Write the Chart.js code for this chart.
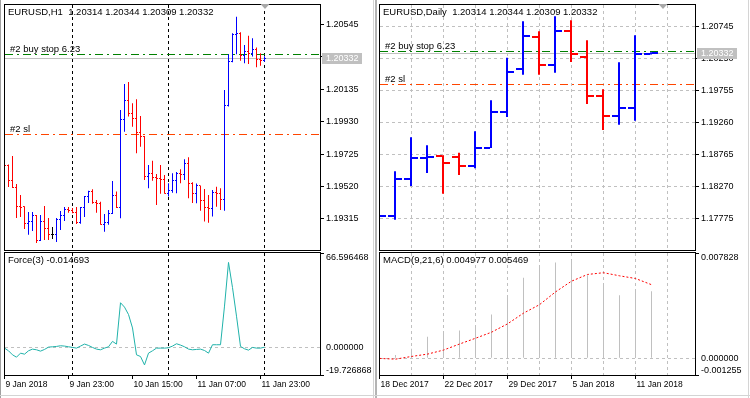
<!DOCTYPE html>
<html>
<head>
<meta charset="utf-8">
<title>EURUSD H1 / Daily</title>
<script src="https://cdn.jsdelivr.net/npm/chart.js@4.4.1/dist/chart.umd.min.js"></script>
<style>
  html, body { margin: 0; padding: 0; background: #fff; }
  body { position: relative; width: 750px; height: 398px; overflow: hidden; }
  .win { position: absolute; top: 0; width: 375px; height: 398px; }
  .win canvas { position: absolute; left: 0; }
  .pane-main { top: 0; }
  .pane-sub { top: 252px; }
  .edge { position: absolute; }
</style>
</head>
<body>
<div class="win" style="left:0">
  <canvas id="h1-price" class="pane-main" width="375" height="252"></canvas>
  <canvas id="h1-force" class="pane-sub" width="375" height="146"></canvas>
</div>
<div class="win" style="left:375px">
  <canvas id="d1-price" class="pane-main" width="375" height="252"></canvas>
  <canvas id="d1-macd" class="pane-sub" width="375" height="146"></canvas>
</div>
<div class="edge" style="left:0;top:0;width:1px;height:398px;background:#a0a0a0"></div>
<div class="edge" style="left:373px;top:0;width:1px;height:398px;background:#d4d4d4"></div>
<div class="edge" style="left:375px;top:0;width:2px;height:398px;background:#b4b4b4"></div>
<div class="edge" style="left:748px;top:0;width:1px;height:398px;background:#d4d4d4"></div>
<div class="edge" style="left:0;top:395px;width:750px;height:1px;background:#d4d4d4"></div>
<script>
// ── Data: EURUSD H1, 9 Jan 2018 07:00 → 12 Jan 2018 00:00 ─────

const symbol = "EURUSD";

const h1Open = [
  1.19669, 1.19656, 1.19561, 1.19517, 1.19397, 1.19391, 1.19284, 1.19297, 1.19335, 1.19182, 1.19302,
  1.19252, 1.19220, 1.19220, 1.19309, 1.19340, 1.19372, 1.19366, 1.19356, 1.19291, 1.19385, 1.19455,
  1.19486, 1.19418, 1.19411, 1.19282, 1.19292, 1.19352, 1.19466, 1.19390, 1.19945, 1.20061, 1.19983,
  1.19951, 1.19863, 1.19835, 1.19582, 1.19604, 1.19576, 1.19572, 1.19566, 1.19477, 1.19494, 1.19561,
  1.19604, 1.19596, 1.19667, 1.19541, 1.19474, 1.19524, 1.19431, 1.19390, 1.19384, 1.19481, 1.19474,
  1.19441, 1.20035, 1.20309, 1.20482, 1.20489, 1.20345, 1.20372, 1.20362, 1.20383, 1.20320, 1.20314,
];
const h1High = [
  1.19688, 1.19660, 1.19713, 1.19536, 1.19467, 1.19395, 1.19359, 1.19359, 1.19340, 1.19340, 1.19397,
  1.19321, 1.19265, 1.19321, 1.19366, 1.19391, 1.19391, 1.19385, 1.19391, 1.19391, 1.19461, 1.19494,
  1.19503, 1.19435, 1.19424, 1.19347, 1.19372, 1.19555, 1.19488, 1.20004, 1.20168, 1.20181, 1.20046,
  1.20071, 1.19966, 1.19840, 1.19656, 1.19683, 1.19599, 1.19656, 1.19593, 1.19541, 1.19604, 1.19612,
  1.19629, 1.19692, 1.19705, 1.19547, 1.19539, 1.19527, 1.19505, 1.19467, 1.19498, 1.19519, 1.19509,
  1.20130, 1.20356, 1.20489, 1.20593, 1.20495, 1.20415, 1.20473, 1.20457, 1.20398, 1.20362, 1.20344,
];
const h1Low = [
  1.19612, 1.19517, 1.19511, 1.19321, 1.19328, 1.19252, 1.19215, 1.19239, 1.19163, 1.19176, 1.19182,
  1.19182, 1.19189, 1.19170, 1.19246, 1.19302, 1.19354, 1.19351, 1.19284, 1.19285, 1.19328, 1.19416,
  1.19411, 1.19354, 1.19278, 1.19235, 1.19278, 1.19347, 1.19384, 1.19319, 1.19867, 1.19962, 1.19898,
  1.19730, 1.19772, 1.19561, 1.19509, 1.19557, 1.19403, 1.19474, 1.19474, 1.19457, 1.19481, 1.19477,
  1.19541, 1.19561, 1.19446, 1.19416, 1.19414, 1.19367, 1.19299, 1.19292, 1.19330, 1.19393, 1.19372,
  1.19367, 1.20025, 1.20305, 1.20356, 1.20315, 1.20299, 1.20295, 1.20341, 1.20274, 1.20284, 1.20309,
];
const h1Close = [
  1.19656, 1.19561, 1.19517, 1.19397, 1.19389, 1.19284, 1.19297, 1.19335, 1.19182, 1.19302, 1.19252,
  1.19220, 1.19220, 1.19309, 1.19340, 1.19372, 1.19366, 1.19356, 1.19291, 1.19385, 1.19455, 1.19486,
  1.19418, 1.19411, 1.19282, 1.19292, 1.19352, 1.19466, 1.19390, 1.19945, 1.20061, 1.19983, 1.19951,
  1.19863, 1.19835, 1.19582, 1.19604, 1.19576, 1.19572, 1.19566, 1.19477, 1.19494, 1.19561, 1.19604,
  1.19596, 1.19667, 1.19541, 1.19474, 1.19524, 1.19431, 1.19390, 1.19384, 1.19481, 1.19474, 1.19441,
  1.20035, 1.20309, 1.20482, 1.20489, 1.20345, 1.20372, 1.20362, 1.20383, 1.20320, 1.20314, 1.20332,
];
const h1Force = [
  -0.70, -2.60, -5.45, -7.12, -4.27, -4.98, -2.60, -1.41, -1.89, -2.84, -1.65,
  0.00, 0.25, 0.49, 0.96, 0.73, 0.25, -0.22, -0.70, 0.73, 2.15, 1.20,
  -0.22, -1.41, -1.89, -0.70, 0.25, 4.06, 2.15, 31.40, 28.31, 23.08, 13.57,
  -5.45, -6.65, -12.59, -4.27, -2.60, -0.70, -0.70, -0.70, -0.46, 0.73, 2.38,
  1.44, 0.25, -1.41, -1.89, -1.65, -1.41, -2.37, -4.27, 1.68, 1.68, 1.68,
  29.02, 59.94, 42.10, 21.89, 0.49, -1.18, -2.13, -0.22, -0.70, -0.70, -0.014693,
];
const h1TickIdx = [0, 16, 32, 48, 64];
const h1TickLabels = ["9 Jan 2018", "9 Jan 23:00", "10 Jan 15:00", "11 Jan 07:00", "11 Jan 23:00"];
const h1Separators = [17, 41, 65];
const h1PriceTicks = [1.20545, 1.2034, 1.20135, 1.1993, 1.19725, 1.1952, 1.19315];
const forceTicks = [-19.726868, 0, 66.596468];

// ── Data: EURUSD Daily, 18 Dec 2017 → 12 Jan 2018 ─────────────

const d1Dates = [
  "18 Dec 2017", "19 Dec 2017", "20 Dec 2017", "21 Dec 2017", "22 Dec 2017", "26 Dec 2017",
  "27 Dec 2017", "28 Dec 2017", "29 Dec 2017", "2 Jan 2018", "3 Jan 2018", "4 Jan 2018",
  "5 Jan 2018", "8 Jan 2018", "9 Jan 2018", "10 Jan 2018", "11 Jan 2018", "12 Jan 2018",
];
const d1Open = [1.17480, 1.17815, 1.18381, 1.18716, 1.18742, 1.18721, 1.18587, 1.18870, 1.19420,
  1.20081, 1.20580, 1.20148, 1.20673, 1.20271, 1.19669, 1.19355, 1.19483, 1.20314];
const d1High = [1.18100, 1.18505, 1.19030, 1.18906, 1.18752, 1.18793, 1.19123, 1.19602, 1.20261,
  1.20822, 1.20668, 1.20900, 1.20838, 1.20529, 1.19772, 1.20189, 1.20606, 1.20344];
const d1Low = [1.17410, 1.17758, 1.18278, 1.18479, 1.18160, 1.18448, 1.18551, 1.18865, 1.19344,
  1.19998, 1.19998, 1.20029, 1.20194, 1.19545, 1.19143, 1.19226, 1.19288, 1.20309];
const d1Close = [1.17815, 1.18381, 1.18716, 1.18726, 1.18633, 1.18587, 1.18870, 1.19427, 1.20034,
  1.20590, 1.20153, 1.20673, 1.20312, 1.19669, 1.19355, 1.19483, 1.20318, 1.20332];
const d1Macd = [-0.0001, 0.000225, 0.0007, 0.0016, 0.00188, 0.00205, 0.00243, 0.00325, 0.00455,
  0.00598, 0.00673, 0.00713, 0.00726, 0.00618, 0.00548, 0.00468, 0.005, 0.004977];
const d1Signal = [-0.00002, -0.000075, 0.000125, 0.0003, 0.0006, 0.00105, 0.00148, 0.00193, 0.00255,
  0.00335, 0.00398, 0.00493, 0.00573, 0.00623, 0.00636, 0.00613, 0.00593, 0.005469];
const d1TickIdx = [0, 4, 8, 12, 16];
const d1GridIdx = [0, 2, 4, 6, 8, 10, 12, 14, 16, 18];
const d1PriceTicks = [1.20745, 1.2025, 1.19755, 1.1926, 1.18765, 1.1827, 1.17775];
const macdTicks = [-0.001255, 0, 0.007828];

// pending order #2, shown on both charts
const orderLevels = [1.20357, 1.19855];
const orderLabels = ["#2 buy stop 6.23", "#2 sl"];

// ── Look ──────────────────────────────────────────────────────

const UP = "#0000ff";
const DOWN = "#ff0000";
const DOJI = "#000000";
const GRID = "#c0c0c0";
const CLEAR = "rgba(0, 0, 0, 0)";
const LEVEL_COLORS = ["#008000", "#ff4500"];
const FAMILY = '"Liberation Sans", Arial, sans-serif';
const TEXT_FONT = "9.5px " + FAMILY;
const AXIS_FONT = "9px " + FAMILY;
const AXIS_W = 55;
const DASH = [3, 3];
const DASHDOT = [8, 4, 2, 4];

// visible windows (bar index / price)
const h1View = { min: 0.125, max: 78.875 };
const h1Range = { min: 1.191191, max: 1.206671 };
const d1View = { min: 0.0625, max: 19.75 };
const macdView = { min: 0.03125, max: 19.71875 };
const d1Range = { min: 1.1729, max: 1.21074 };

Chart.defaults.font.family = FAMILY;
Chart.defaults.font.size = 9;
Chart.defaults.color = "#000";

function barColor(o, c) {
  return c > o ? UP : c < o ? DOWN : DOJI;
}

function last(arr) {
  return arr[arr.length - 1];
}

// ── Axis helpers ──────────────────────────────────────────────

function setTicks(values) {
  return (axis) => {
    axis.ticks = values.map((v) => ({ value: v }));
  };
}

function fixedWidth(w) {
  return (axis) => {
    axis.width = w;
    axis.paddingTop = 0;
    axis.paddingBottom = 0;
  };
}

function fixedHeight(h) {
  return (axis) => {
    axis.height = h;
    axis.paddingLeft = 0;
    axis.paddingRight = 0;
  };
}

function priceAxis(range, ticks, withGrid) {
  return {
    position: "right",
    min: range.min,
    max: range.max,
    beginAtZero: false,
    afterBuildTicks: setTicks(ticks),
    afterFit: fixedWidth(AXIS_W),
    ticks: { padding: 2, autoSkip: false, callback: (v) => v.toFixed(5) },
    grid: { drawOnChartArea: withGrid, color: GRID, tickLength: 4, tickColor: "#000", borderDash: DASH },
    border: { display: false, dash: DASH },
  };
}

function levelAxis(ticks, digits) {
  const lo = ticks[0];
  const hi = last(ticks);
  const isZero = (c) => c.tick && c.tick.value === 0;
  return {
    position: "right",
    min: lo,
    max: hi,
    beginAtZero: false,
    afterBuildTicks: setTicks(ticks),
    afterFit: fixedWidth(AXIS_W),
    ticks: {
      padding: 2,
      autoSkip: false,
      font: { lineHeight: 0.9 },
      callback: (v) => {
        const s = v.toFixed(digits);
        return v === hi ? ["", s] : v === lo ? [s, ""] : s;
      },
    },
    grid: {
      color: (c) => (isZero(c) ? GRID : CLEAR),
      tickColor: (c) => (isZero(c) ? CLEAR : "#000"),
      tickLength: 4,
      borderDash: DASH,
    },
    border: { display: false, dash: DASH },
  };
}

function hiddenTimeAxis(view, gridAt, color) {
  return {
    type: "linear",
    min: view.min,
    max: view.max,
    offset: false,
    afterBuildTicks: setTicks(gridAt),
    afterFit: fixedHeight(0),
    ticks: { display: false },
    grid: { offset: false, color, drawTicks: false, borderDash: DASH },
    border: { display: false, dash: DASH },
  };
}

function labelledTimeAxis(view, tickAt, labelAt, labels, color) {
  return {
    type: "linear",
    min: view.min,
    max: view.max,
    offset: false,
    afterBuildTicks: setTicks(tickAt),
    afterFit: fixedHeight(23),
    ticks: {
      align: "start",
      labelOffset: 1,
      padding: 1,
      autoSkip: false,
      maxRotation: 0,
      minRotation: 0,
      font: { size: 8.5 },
      callback: (v) => {
        const k = labelAt.indexOf(v);
        return k < 0 ? "" : labels[k];
      },
    },
    grid: {
      offset: false,
      color,
      tickLength: 4,
      tickColor: (c) => (c.tick && labelAt.includes(c.tick.value) ? "#000" : CLEAR),
      borderDash: DASH,
    },
    border: { display: false, dash: DASH },
  };
}

function ohlcBars(open, high, low, close, thickness) {
  return {
    data: low.map((l, i) => ({ x: i, y: [l, high[i]] })),
    backgroundColor: open.map((o, i) => barColor(o, close[i])),
    barThickness: thickness,
    inflateAmount: 0,
    clip: 0,
  };
}

function baseOptions(padding, scales) {
  return {
    responsive: false,
    animation: false,
    events: [],
    layout: { padding },
    plugins: { legend: { display: false }, tooltip: { enabled: false } },
    scales,
  };
}

// ── Plugins ───────────────────────────────────────────────────

// open tick to the left, close tick to the right of each high-low bar
function ohlcTicks(open, close, len, width) {
  return {
    id: "ohlcTicks",
    afterDatasetsDraw(chart) {
      const { ctx, chartArea: a } = chart;
      const y = chart.scales.y;
      const bars = chart.getDatasetMeta(0).data;
      ctx.save();
      ctx.beginPath();
      ctx.rect(a.left, a.top, a.right - a.left, a.bottom - a.top);
      ctx.clip();
      bars.forEach((bar, i) => {
        const half = bar.width / 2;
        ctx.fillStyle = barColor(open[i], close[i]);
        ctx.fillRect(bar.x - half - len, Math.round(y.getPixelForValue(open[i]) - width / 2), len, width);
        ctx.fillRect(bar.x + half, Math.round(y.getPixelForValue(close[i]) - width / 2), len, width);
      });
      ctx.restore();
    },
  };
}

// order levels and bid line, snapped to whole pixels, under the bars
function priceLevels(levels, colors, bid) {
  return {
    id: "priceLevels",
    beforeDatasetsDraw(chart) {
      const { ctx, chartArea: a } = chart;
      const y = chart.scales.y;
      const hline = (value, color, dash) => {
        const py = Math.round(y.getPixelForValue(value)) + 0.5;
        ctx.strokeStyle = color;
        ctx.setLineDash(dash);
        ctx.beginPath();
        ctx.moveTo(a.left, py);
        ctx.lineTo(a.right, py);
        ctx.stroke();
      };
      ctx.save();
      ctx.lineWidth = 1;
      hline(bid, GRID, []);
      levels.forEach((v, i) => hline(v, colors[i], DASHDOT));
      ctx.restore();
    },
  };
}

const framePlugin = {
  id: "frame",
  afterDraw(chart) {
    const { ctx, chartArea: a } = chart;
    ctx.save();
    ctx.strokeStyle = "#000";
    ctx.lineWidth = 1;
    ctx.strokeRect(a.left - 0.5, a.top - 0.5, a.right - a.left + 1, a.bottom - a.top + 1);
    ctx.restore();
  },
};

function paneDecor({ title, levels = [], price, shiftAt }) {
  return {
    id: "paneDecor",
    afterDraw(chart) {
      const { ctx, chartArea: a, scales } = chart;
      ctx.save();
      ctx.font = TEXT_FONT;
      ctx.fillStyle = "#000";
      ctx.textBaseline = "middle";
      ctx.fillText(title, a.left + 3, a.top + 7);

      ctx.textBaseline = "alphabetic";
      levels.forEach(([value, text]) => {
        ctx.fillText(text, a.left + 5, Math.round(scales.y.getPixelForValue(value)) - 2);
      });

      if (price !== undefined) {
        const py = Math.round(scales.y.getPixelForValue(price));
        ctx.fillStyle = GRID;
        ctx.fillRect(a.right + 2, py - 5, 40, 11);
        ctx.fillStyle = "#fff";
        ctx.font = AXIS_FONT;
        ctx.textBaseline = "middle";
        ctx.fillText(price.toFixed(5), a.right + 6, py + 0.5);
      }

      if (shiftAt !== undefined) {
        const sx = Math.round(scales.x.getPixelForValue(shiftAt));
        ctx.fillStyle = "#a8a8a8";
        ctx.beginPath();
        ctx.moveTo(sx - 4.5, a.top - 1);
        ctx.lineTo(sx + 4.5, a.top - 1);
        ctx.lineTo(sx, a.top + 4);
        ctx.closePath();
        ctx.fill();
      }
      ctx.restore();
    },
  };
}

function barTitle(period, open, high, low, close) {
  const ohlc = [last(open), last(high), last(low), last(close)].map((v) => v.toFixed(5));
  return `${symbol},${period}  ${ohlc.join(" ")}`;
}

const orderPairs = orderLevels.map((v, i) => [v, orderLabels[i]]);
const MAIN_PAD = { left: 5, top: 5, right: 0, bottom: 2 };
const SUB_PAD = { left: 5, top: 1, right: 0, bottom: 0 };

// ── H1 price ──────────────────────────────────────────────────

new Chart(document.getElementById("h1-price"), {
  type: "bar",
  data: { datasets: [ohlcBars(h1Open, h1High, h1Low, h1Close, 1)] },
  options: baseOptions(MAIN_PAD, {
    x: hiddenTimeAxis(h1View, h1Separators, "#000"),
    y: priceAxis(h1Range, h1PriceTicks, false),
  }),
  plugins: [
    priceLevels(orderLevels, LEVEL_COLORS, last(h1Close)),
    ohlcTicks(h1Open, h1Close, 1, 1),
    framePlugin,
    paneDecor({
      title: barTitle("H1", h1Open, h1High, h1Low, h1Close),
      levels: orderPairs,
      price: last(h1Close),
      shiftAt: 65,
    }),
  ],
});

// ── H1 Force(3) ───────────────────────────────────────────────

new Chart(document.getElementById("h1-force"), {
  type: "line",
  data: {
    datasets: [
      {
        data: h1Force.map((v, i) => ({ x: i, y: v })),
        borderColor: "#20b2aa",
        borderWidth: 1,
        pointRadius: 0,
        tension: 0,
      },
    ],
  },
  options: baseOptions(SUB_PAD, {
    x: labelledTimeAxis(
      h1View,
      [...h1TickIdx, ...h1Separators].sort((a, b) => a - b),
      h1TickIdx,
      h1TickLabels,
      (c) => (c.tick && h1Separators.includes(c.tick.value) ? "#000" : CLEAR),
    ),
    y: levelAxis(forceTicks, 6),
  }),
  plugins: [framePlugin, paneDecor({ title: "Force(3) " + last(h1Force).toFixed(6) })],
});

// ── Daily price ───────────────────────────────────────────────

new Chart(document.getElementById("d1-price"), {
  type: "bar",
  data: { datasets: [ohlcBars(d1Open, d1High, d1Low, d1Close, 2)] },
  options: baseOptions(MAIN_PAD, {
    x: hiddenTimeAxis(d1View, d1GridIdx, GRID),
    y: priceAxis(d1Range, d1PriceTicks, true),
  }),
  plugins: [
    priceLevels(orderLevels, LEVEL_COLORS, last(d1Close)),
    ohlcTicks(d1Open, d1Close, 6, 2),
    framePlugin,
    paneDecor({
      title: barTitle("Daily", d1Open, d1High, d1Low, d1Close),
      levels: orderPairs,
      price: last(d1Close),
      shiftAt: 17.78,
    }),
  ],
});

// ── Daily MACD(9,21,6) ────────────────────────────────────────

new Chart(document.getElementById("d1-macd"), {
  type: "bar",
  data: {
    datasets: [
      {
        data: d1Macd.map((v, i) => ({ x: i, y: v })),
        backgroundColor: GRID,
        barThickness: 1,
        inflateAmount: 0,
        clip: 0,
        order: 1,
      },
      {
        type: "line",
        data: d1Signal.map((v, i) => ({ x: i, y: v })),
        borderColor: "#ff0000",
        borderWidth: 1,
        borderDash: [2, 2],
        pointRadius: 0,
        order: 0,
      },
    ],
  },
  options: baseOptions(SUB_PAD, {
    x: labelledTimeAxis(macdView, d1GridIdx, d1TickIdx, d1TickIdx.map((i) => d1Dates[i]), GRID),
    y: levelAxis(macdTicks, 6),
  }),
  plugins: [
    framePlugin,
    paneDecor({ title: `MACD(9,21,6) ${last(d1Macd).toFixed(6)} ${last(d1Signal).toFixed(6)}` }),
  ],
});
</script>
</body>
</html>
